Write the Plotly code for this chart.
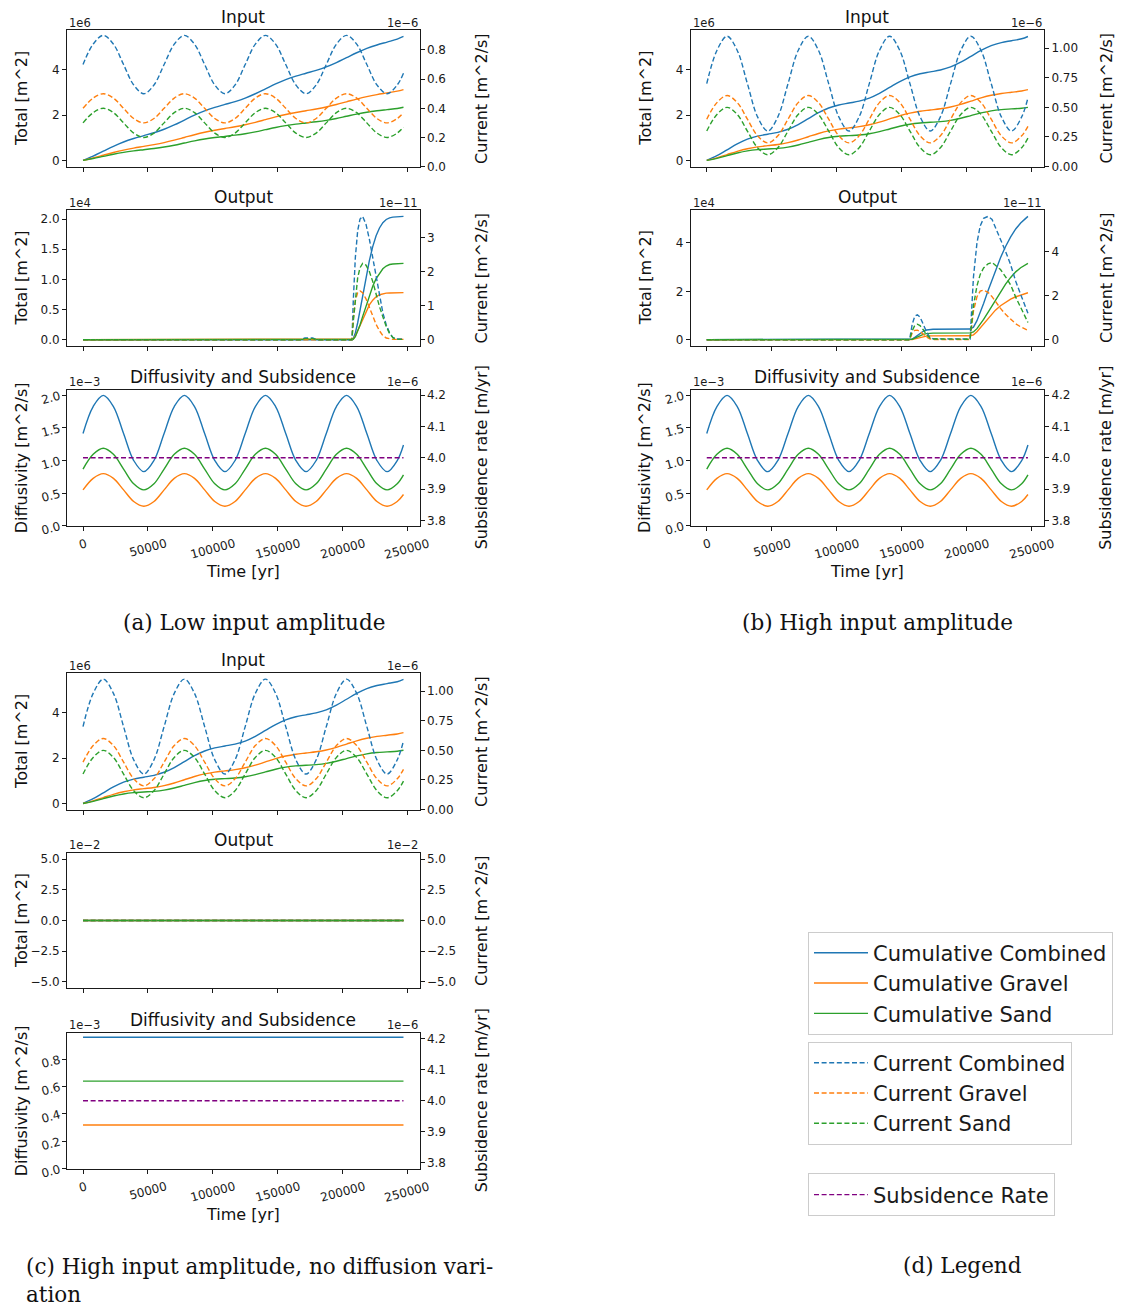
import plotly.graph_objects as go

W, H = 1121, 1309

# ---------------- data ----------------
t_in = [0, 7813, 15625, 23438, 31250, 39063, 46875, 54688, 62500, 70313, 78125, 85938,
        93750, 101563, 109375, 117188, 125000, 132813, 140625, 148438, 156250, 164063,
        171875, 179688, 187500, 195313, 203125, 210938, 218750, 226563, 234375, 242188, 247000]
t_const = [0, 247000]

# Input, low amplitude (a)
cum_comb_a = [0, 0.190, 0.406, 0.622, 0.812, 0.965, 1.093, 1.220, 1.374, 1.564, 1.780, 1.995, 2.185,
              2.339, 2.466, 2.594, 2.747, 2.937, 3.153, 3.369, 3.559, 3.713, 3.840, 3.968, 4.121,
              4.311, 4.527, 4.743, 4.933, 5.086, 5.214, 5.341, 5.460]
cum_grav_a = [0, 0.107, 0.227, 0.348, 0.455, 0.544, 0.620, 0.696, 0.785, 0.892, 1.012, 1.133, 1.240,
              1.329, 1.405, 1.481, 1.570, 1.677, 1.797, 1.918, 2.025, 2.114, 2.190, 2.266, 2.355,
              2.462, 2.582, 2.703, 2.810, 2.899, 2.975, 3.051, 3.120]
cum_sand_a = [0, 0.083, 0.178, 0.274, 0.357, 0.421, 0.473, 0.524, 0.589, 0.671, 0.767, 0.863, 0.946,
              1.010, 1.061, 1.113, 1.177, 1.260, 1.356, 1.452, 1.534, 1.599, 1.650, 1.702, 1.766,
              1.849, 1.945, 2.040, 2.123, 2.187, 2.239, 2.290, 2.340]
cur_comb_a = [0.70, 0.84, 0.90, 0.84, 0.70, 0.56, 0.50, 0.56, 0.70, 0.84, 0.90, 0.84, 0.70, 0.56, 0.50, 0.56,
              0.70, 0.84, 0.90, 0.84, 0.70, 0.56, 0.50, 0.56, 0.70, 0.84, 0.90, 0.84, 0.70, 0.56, 0.50, 0.56, 0.64]
cur_grav_a = [0.40, 0.47, 0.50, 0.47, 0.40, 0.33, 0.30, 0.33, 0.40, 0.47, 0.50, 0.47, 0.40, 0.33, 0.30, 0.33,
              0.40, 0.47, 0.50, 0.47, 0.40, 0.33, 0.30, 0.33, 0.40, 0.47, 0.50, 0.47, 0.40, 0.33, 0.30, 0.33, 0.37]
cur_sand_a = [0.30, 0.37, 0.40, 0.37, 0.30, 0.23, 0.20, 0.23, 0.30, 0.37, 0.40, 0.37, 0.30, 0.23, 0.20, 0.23,
              0.30, 0.37, 0.40, 0.37, 0.30, 0.23, 0.20, 0.23, 0.30, 0.37, 0.40, 0.37, 0.30, 0.23, 0.20, 0.23, 0.27]

# Input, high amplitude (b and c)
cum_comb_b = [0, 0.208, 0.468, 0.728, 0.937, 1.072, 1.155, 1.239, 1.374, 1.582, 1.842, 2.102, 2.310,
              2.445, 2.529, 2.612, 2.747, 2.956, 3.216, 3.476, 3.684, 3.819, 3.902, 3.986, 4.121,
              4.329, 4.589, 4.849, 5.058, 5.193, 5.276, 5.360, 5.462]
cum_grav_b = [0, 0.116, 0.259, 0.401, 0.517, 0.597, 0.651, 0.705, 0.785, 0.901, 1.044, 1.186, 1.302,
              1.382, 1.436, 1.490, 1.570, 1.686, 1.829, 1.971, 2.087, 2.167, 2.221, 2.275, 2.355,
              2.471, 2.614, 2.756, 2.872, 2.952, 3.006, 3.060, 3.120]
cum_sand_b = [0, 0.092, 0.210, 0.327, 0.419, 0.475, 0.504, 0.533, 0.589, 0.681, 0.798, 0.916, 1.008,
              1.063, 1.093, 1.122, 1.177, 1.269, 1.387, 1.505, 1.597, 1.652, 1.681, 1.711, 1.766,
              1.858, 1.976, 2.094, 2.185, 2.241, 2.270, 2.300, 2.340]
cur_comb_b = [0.70, 0.98, 1.10, 0.98, 0.70, 0.42, 0.30, 0.42, 0.70, 0.98, 1.10, 0.98, 0.70, 0.42, 0.30, 0.42,
              0.70, 0.98, 1.10, 0.98, 0.70, 0.42, 0.30, 0.42, 0.70, 0.98, 1.10, 0.98, 0.70, 0.42, 0.30, 0.42, 0.58]
cur_grav_b = [0.40, 0.54, 0.60, 0.54, 0.40, 0.26, 0.20, 0.26, 0.40, 0.54, 0.60, 0.54, 0.40, 0.26, 0.20, 0.26,
              0.40, 0.54, 0.60, 0.54, 0.40, 0.26, 0.20, 0.26, 0.40, 0.54, 0.60, 0.54, 0.40, 0.26, 0.20, 0.26, 0.34]
cur_sand_b = [0.30, 0.44, 0.50, 0.44, 0.30, 0.16, 0.10, 0.16, 0.30, 0.44, 0.50, 0.44, 0.30, 0.16, 0.10, 0.16,
              0.30, 0.44, 0.50, 0.44, 0.30, 0.16, 0.10, 0.16, 0.30, 0.44, 0.50, 0.44, 0.30, 0.16, 0.10, 0.16, 0.24]

# Output, low amplitude (a)
t_out_a = [0, 168000, 171000, 174000, 177000, 180000, 207300, 208300, 209900, 211700, 213500, 215500,
           218100, 220700, 223300, 225900, 228500, 231100, 233700, 236300, 238800, 241400, 247000]
out_cum_comb_a = [0, 0, 0, 0, 0, 0, 0, 0.019, 0.112, 0.281, 0.485, 0.733, 1.037, 1.311, 1.543, 1.723,
                  1.852, 1.940, 1.993, 2.021, 2.032, 2.036, 2.045]
out_cum_grav_a = [0, 0, 0, 0, 0, 0, 0, 0.011, 0.062, 0.147, 0.242, 0.350, 0.474, 0.577, 0.656, 0.711,
                  0.746, 0.764, 0.772, 0.775, 0.777, 0.778, 0.780]
out_cum_sand_a = [0, 0, 0, 0, 0, 0, 0, 0.008, 0.050, 0.134, 0.243, 0.383, 0.563, 0.734, 0.887, 1.012,
                  1.106, 1.176, 1.221, 1.246, 1.255, 1.258, 1.265]
out_cur_comb_a = [0, 0, 0.05, 0.06, 0.05, 0, 0, 1.13, 2.41, 3.20, 3.54, 3.62, 3.39, 2.95, 2.41, 1.77,
                  1.23, 0.79, 0.44, 0.20, 0.07, 0.02, 0.02]
out_cur_grav_a = [0, 0, 0.02, 0.02, 0.02, 0, 0, 0.60, 1.15, 1.38, 1.43, 1.38, 1.20, 0.95, 0.70, 0.45,
                  0.26, 0.12, 0.05, 0.02, 0.01, 0.01, 0.01]
out_cur_sand_a = [0, 0, 0.03, 0.04, 0.03, 0, 0, 0.53, 1.26, 1.82, 2.11, 2.24, 2.19, 2.00, 1.71, 1.32,
                  0.97, 0.67, 0.39, 0.18, 0.06, 0.01, 0.01]

# Output, high amplitude (b)
t_out_b = [0, 156000, 158000, 160000, 162000, 164000, 166500, 169000, 171500, 174000, 202500, 205100,
           207800, 210300, 212900, 216300, 219400, 222000, 225900, 229800, 233700, 237600, 241400, 245300, 247000]
out_cum_comb_b = [0, 0, 0.027, 0.096, 0.181, 0.264, 0.348, 0.399, 0.422, 0.430, 0.440, 0.518, 0.788,
                  1.117, 1.500, 2.020, 2.492, 2.871, 3.393, 3.856, 4.254, 4.580, 4.826, 5.017, 5.100]
out_cum_grav_b = [0, 0, 0.010, 0.036, 0.067, 0.098, 0.129, 0.148, 0.156, 0.159, 0.160, 0.199, 0.331,
                  0.487, 0.662, 0.887, 1.078, 1.222, 1.406, 1.557, 1.679, 1.775, 1.849, 1.911, 1.940]
out_cum_sand_b = [0, 0, 0.017, 0.060, 0.114, 0.166, 0.219, 0.251, 0.266, 0.271, 0.280, 0.319, 0.457,
                  0.630, 0.838, 1.133, 1.414, 1.649, 1.987, 2.299, 2.575, 2.805, 2.977, 3.106, 3.160]
out_cur_comb_b = [0, 0, 0.70, 1.07, 1.13, 1.02, 0.70, 0.35, 0.12, 0.04, 0.03, 2.84, 4.39, 5.16, 5.50,
                  5.59, 5.45, 5.10, 4.60, 4.00, 3.40, 2.65, 2.05, 1.50, 1.20]
out_cur_grav_b = [0, 0, 0.30, 0.42, 0.43, 0.38, 0.25, 0.12, 0.04, 0.01, 0.01, 1.30, 1.95, 2.20, 2.25,
                  2.15, 1.95, 1.72, 1.42, 1.15, 0.92, 0.72, 0.58, 0.47, 0.42]
out_cur_sand_b = [0, 0, 0.40, 0.65, 0.70, 0.64, 0.45, 0.23, 0.08, 0.03, 0.02, 1.54, 2.44, 2.96, 3.25,
                  3.44, 3.50, 3.38, 3.18, 2.85, 2.48, 1.93, 1.47, 1.03, 0.78]

# Output, no diffusion variation (c): all zero
out_zero_c = [0, 0]

# Diffusivity (a, b) and constant (c)
diff_comb = [1.415, 1.829, 2.00, 1.829, 1.415, 1.001, 0.83, 1.001, 1.415, 1.829, 2.00, 1.829, 1.415, 1.001, 0.83, 1.001,
             1.415, 1.829, 2.00, 1.829, 1.415, 1.001, 0.83, 1.001, 1.415, 1.829, 2.00, 1.829, 1.415, 1.001, 0.83, 1.001, 1.24]
diff_grav = [0.55, 0.727, 0.80, 0.727, 0.55, 0.373, 0.30, 0.373, 0.55, 0.727, 0.80, 0.727, 0.55, 0.373, 0.30, 0.373,
             0.55, 0.727, 0.80, 0.727, 0.55, 0.373, 0.30, 0.373, 0.55, 0.727, 0.80, 0.727, 0.55, 0.373, 0.30, 0.373, 0.48]
diff_sand = [0.87, 1.096, 1.19, 1.096, 0.87, 0.644, 0.55, 0.644, 0.87, 1.096, 1.19, 1.096, 0.87, 0.644, 0.55, 0.644,
             0.87, 1.096, 1.19, 1.096, 0.87, 0.644, 0.55, 0.644, 0.87, 1.096, 1.19, 1.096, 0.87, 0.644, 0.55, 0.644, 0.78]
diff_comb_c = [0.96, 0.96]
diff_grav_c = [0.32, 0.32]
diff_sand_c = [0.64, 0.64]
subsidence = [4.0, 4.0]

x_tick_vals = [0, 50000, 100000, 150000, 200000, 250000]
x_tick_text = ["0", "50000", "100000", "150000", "200000", "250000"]

# ---------------- styling ----------------
BLUE, ORANGE, GREEN, PURPLE = '#1f77b4', '#ff7f0e', '#2ca02c', '#800080'
AX = '#1a1a1a'
FONT = 'DejaVu Sans'
SERIF = 'DejaVu Serif'
LW = 1.4
DASH = '5px,2.6px'
X_RANGE = [-12350, 259350]
SY = 1 / 0.9905  # vertical correction for the capture


def fx(p):
    return p / W


def fy(p):
    return 1 - p * SY / H


col_a = (67.0, 419.5)
col_b = (690.7, 1044.0)
rows_ab = [(29.3, 165.7), (209.3, 345.0), (389.0, 525.0)]
rows_c = [(672.5, 809.0), (852.3, 987.5), (1032.3, 1168.3)]

names_cum = ['Cumulative Combined', 'Cumulative Gravel', 'Cumulative Sand']
names_cur = ['Current Combined', 'Current Gravel', 'Current Sand']
cols3 = [BLUE, ORANGE, GREEN]

specs = [
    # panel a
    dict(col=col_a, row=rows_ab[0], title='Input', lr=[-0.273, 5.733], rr=[0, 0.935],
         lt=[0, 2, 4], lf='d', rt=[0, 0.2, 0.4, 0.6, 0.8], rf='.1f', lo='1e6', ro='1e\u22126',
         ltitle='Total [m^2]', rtitle='Current [m^2/s]', shape='spline',
         left=[(t_in, cum_comb_a), (t_in, cum_grav_a), (t_in, cum_sand_a)],
         right=[(t_in, cur_comb_a), (t_in, cur_grav_a), (t_in, cur_sand_a)], legend=True),
    dict(col=col_a, row=rows_ab[1], title='Output', lr=[-0.102, 2.147], rr=[-0.181, 3.80],
         lt=[0, 0.5, 1.0, 1.5, 2.0], lf='.1f', rt=[0, 1, 2, 3], rf='d', lo='1e4', ro='1e\u221211',
         ltitle='Total [m^2]', rtitle='Current [m^2/s]', shape='linear',
         left=[(t_out_a, out_cum_comb_a), (t_out_a, out_cum_grav_a), (t_out_a, out_cum_sand_a)],
         right=[(t_out_a, out_cur_comb_a), (t_out_a, out_cur_grav_a), (t_out_a, out_cur_sand_a)]),
    dict(col=col_a, row=rows_ab[2], title='Diffusivity and Subsidence', lr=[0, 2.085], rr=[3.783, 4.217],
         lt=[0, 0.5, 1.0, 1.5, 2.0], lf='.1f', rt=[3.8, 3.9, 4.0, 4.1, 4.2], rf='.1f', lo='1e\u22123', ro='1e\u22126',
         ltitle='Diffusivity [m^2/s]', rtitle='Subsidence rate [m/yr]', shape='spline', diff=True,
         left=[(t_in, diff_comb), (t_in, diff_grav), (t_in, diff_sand)],
         right=[(t_const, subsidence)], legend=True),
    # panel b
    dict(col=col_b, row=rows_ab[0], title='Input', lr=[-0.273, 5.735], rr=[0, 1.15],
         lt=[0, 2, 4], lf='d', rt=[0, 0.25, 0.5, 0.75, 1.0], rf='.2f', lo='1e6', ro='1e\u22126',
         ltitle='Total [m^2]', rtitle='Current [m^2/s]', shape='spline',
         left=[(t_in, cum_comb_b), (t_in, cum_grav_b), (t_in, cum_sand_b)],
         right=[(t_in, cur_comb_b), (t_in, cur_grav_b), (t_in, cur_sand_b)]),
    dict(col=col_b, row=rows_ab[1], title='Output', lr=[-0.255, 5.355], rr=[-0.28, 5.87],
         lt=[0, 2, 4], lf='d', rt=[0, 2, 4], rf='d', lo='1e4', ro='1e\u221211',
         ltitle='Total [m^2]', rtitle='Current [m^2/s]', shape='linear',
         left=[(t_out_b, out_cum_comb_b), (t_out_b, out_cum_grav_b), (t_out_b, out_cum_sand_b)],
         right=[(t_out_b, out_cur_comb_b), (t_out_b, out_cur_grav_b), (t_out_b, out_cur_sand_b)]),
    dict(col=col_b, row=rows_ab[2], title='Diffusivity and Subsidence', lr=[0, 2.085], rr=[3.783, 4.217],
         lt=[0, 0.5, 1.0, 1.5, 2.0], lf='.1f', rt=[3.8, 3.9, 4.0, 4.1, 4.2], rf='.1f', lo='1e\u22123', ro='1e\u22126',
         ltitle='Diffusivity [m^2/s]', rtitle='Subsidence rate [m/yr]', shape='spline', diff=True,
         left=[(t_in, diff_comb), (t_in, diff_grav), (t_in, diff_sand)],
         right=[(t_const, subsidence)]),
    # panel c
    dict(col=col_a, row=rows_c[0], title='Input', lr=[-0.273, 5.735], rr=[0, 1.15],
         lt=[0, 2, 4], lf='d', rt=[0, 0.25, 0.5, 0.75, 1.0], rf='.2f', lo='1e6', ro='1e\u22126',
         ltitle='Total [m^2]', rtitle='Current [m^2/s]', shape='spline',
         left=[(t_in, cum_comb_b), (t_in, cum_grav_b), (t_in, cum_sand_b)],
         right=[(t_in, cur_comb_b), (t_in, cur_grav_b), (t_in, cur_sand_b)]),
    dict(col=col_a, row=rows_c[1], title='Output', lr=[-5.5, 5.5], rr=[-5.5, 5.5],
         lt=[-5, -2.5, 0, 2.5, 5], lf='.1f', rt=[-5, -2.5, 0, 2.5, 5], rf='.1f', lo='1e\u22122', ro='1e\u22122',
         ltitle='Total [m^2]', rtitle='Current [m^2/s]', shape='linear',
         left=[(t_const, out_zero_c), (t_const, out_zero_c), (t_const, out_zero_c)],
         right=[(t_const, out_zero_c), (t_const, out_zero_c), (t_const, out_zero_c)]),
    dict(col=col_a, row=rows_c[2], title='Diffusivity and Subsidence', lr=[0, 0.992], rr=[3.781, 4.219],
         lt=[0, 0.2, 0.4, 0.6, 0.8], lf='.1f', rt=[3.8, 3.9, 4.0, 4.1, 4.2], rf='.1f', lo='1e\u22123', ro='1e\u22126',
         ltitle='Diffusivity [m^2/s]', rtitle='Subsidence rate [m/yr]', shape='linear', diff=True,
         left=[(t_const, diff_comb_c), (t_const, diff_grav_c), (t_const, diff_sand_c)],
         right=[(t_const, subsidence)]),
]

fig = go.Figure()
layout = {}
ann = []
tickfont = dict(family=FONT, size=12, color=AX)

for i, s in enumerate(specs):
    xn = i + 1
    yl, yr = 2 * i + 1, 2 * i + 2
    xref = 'x' if xn == 1 else f'x{xn}'
    ylref = 'y' if yl == 1 else f'y{yl}'
    yrref = f'y{yr}'
    xkey = 'xaxis' if xn == 1 else f'xaxis{xn}'
    ylkey = 'yaxis' if yl == 1 else f'yaxis{yl}'
    yrkey = f'yaxis{yr}'
    x0, x1 = s['col']
    top, bot = s['row']
    is_diff = s.get('diff', False)

    layout[xkey] = dict(domain=[fx(x0), fx(x1)], anchor=ylref, range=X_RANGE, showline=True, mirror=True,
                        linecolor=AX, linewidth=1, ticks='outside', ticklen=4, tickcolor=AX,
                        tickvals=x_tick_vals, showticklabels=False, showgrid=False, zeroline=False)
    layout[ylkey] = dict(domain=[fy(bot), fy(top)], anchor=xref, range=s['lr'], showline=True,
                         linecolor=AX, linewidth=1, ticks='outside', ticklen=4, tickcolor=AX,
                         tickvals=s['lt'], tickformat=s['lf'], tickfont=tickfont, showgrid=False,
                         zeroline=False, tickangle=-15 if is_diff else 0)
    layout[yrkey] = dict(overlaying=ylref, side='right', anchor=xref, range=s['rr'], showline=True,
                         linecolor=AX, linewidth=1, ticks='outside', ticklen=4, tickcolor=AX,
                         tickvals=s['rt'], tickformat=s['rf'], tickfont=tickfont, showgrid=False,
                         zeroline=False)

    show = s.get('legend', False)
    for j, (tx, ty) in enumerate(s['left']):
        fig.add_trace(go.Scatter(x=tx, y=ty, mode='lines', xaxis=xref, yaxis=ylref,
                                 line=dict(color=cols3[j], width=LW, shape=s['shape']),
                                 name=names_cum[j], legend='legend',
                                 showlegend=bool(show and not is_diff)))
    if is_diff:
        tx, ty = s['right'][0]
        fig.add_trace(go.Scatter(x=tx, y=ty, mode='lines', xaxis=xref, yaxis=yrref,
                                 line=dict(color=PURPLE, width=LW, dash=DASH),
                                 name='Subsidence Rate', legend='legend3', showlegend=bool(show)))
    else:
        for j, (tx, ty) in enumerate(s['right']):
            fig.add_trace(go.Scatter(x=tx, y=ty, mode='lines', xaxis=xref, yaxis=yrref,
                                     line=dict(color=cols3[j], width=LW, dash=DASH, shape=s['shape']),
                                     name=names_cur[j], legend='legend2', showlegend=bool(show)))

    # subplot title
    ann.append(dict(text=s['title'], x=fx((x0 + x1) / 2), y=fy(top - 13), xref='paper', yref='paper',
                    xanchor='center', yanchor='middle', showarrow=False,
                    font=dict(family=FONT, size=17, color='#111')))
    # offset texts
    ann.append(dict(text=s['lo'], x=fx(x0), y=fy(top - 7.5), xref='paper', yref='paper',
                    xanchor='left', yanchor='middle', showarrow=False, font=dict(family=FONT, size=11.5, color=AX)))
    ann.append(dict(text=s['ro'], x=fx(x1), y=fy(top - 7.5), xref='paper', yref='paper',
                    xanchor='right', yanchor='middle', showarrow=False, font=dict(family=FONT, size=11.5, color=AX)))
    # axis titles
    mid = (top + bot) / 2
    ann.append(dict(text=s['ltitle'], x=fx(x0 - 45.5), y=fy(mid), xref='paper', yref='paper',
                    xanchor='center', yanchor='middle', textangle=-90, showarrow=False,
                    font=dict(family=FONT, size=16, color='#111')))
    ann.append(dict(text=s['rtitle'], x=fx(x1 + 62), y=fy(mid), xref='paper', yref='paper',
                    xanchor='center', yanchor='middle', textangle=-90, showarrow=False,
                    font=dict(family=FONT, size=16, color='#111')))
    if is_diff:
        for v, tlab in zip(x_tick_vals, x_tick_text):
            ann.append(dict(text=tlab, x=v, xref=xref, y=fy(bot + 8), yref='paper', xanchor='center',
                            yanchor='top', textangle=-15, showarrow=False, font=tickfont))
        ann.append(dict(text='Time [yr]', x=fx((x0 + x1) / 2), y=fy(bot + 46), xref='paper', yref='paper',
                        xanchor='center', yanchor='middle', showarrow=False,
                        font=dict(family=FONT, size=16, color='#111')))

# captions
cap_font = dict(family=SERIF, size=21.5, color='#111')
ann.append(dict(text='(a) Low input amplitude', x=fx(253.5), y=fy(622), xref='paper', yref='paper',
                xanchor='center', yanchor='middle', showarrow=False, font=cap_font))
ann.append(dict(text='(b) High input amplitude', x=fx(877.5), y=fy(622), xref='paper', yref='paper',
                xanchor='center', yanchor='middle', showarrow=False, font=cap_font))
ann.append(dict(text='(c) High input amplitude, no diffusion vari-<br>ation', x=fx(24), y=fy(1252),
                xref='paper', yref='paper', xanchor='left', yanchor='top', align='left',
                showarrow=False, font=cap_font))
ann.append(dict(text='(d) Legend', x=fx(962), y=fy(1265), xref='paper', yref='paper',
                xanchor='center', yanchor='middle', showarrow=False, font=cap_font))

leg_common = dict(xanchor='left', yanchor='top', bgcolor='white', bordercolor='#cccccc', borderwidth=1,
                  font=dict(family=FONT, size=21, color='#1a1a1a'), itemwidth=54, tracegroupgap=0)
layout['legend'] = dict(x=fx(808), y=fy(931), **leg_common)
layout['legend2'] = dict(x=fx(808), y=fy(1041), **leg_common)
layout['legend3'] = dict(x=fx(808), y=fy(1173), **leg_common)

fig.update_layout(width=W, height=H, margin=dict(l=0, r=0, t=0, b=0), paper_bgcolor='white',
                  plot_bgcolor='white', annotations=ann, showlegend=True,
                  font=dict(family=FONT, color=AX), **layout)

fig.write_html('out.html')
